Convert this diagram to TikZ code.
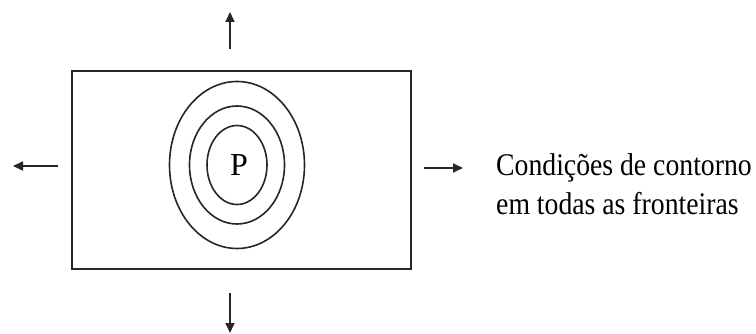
\documentclass[tikz,border=0pt]{standalone}
\usepackage{fontspec}
\setmainfont{Liberation Serif}
\newfontfamily\condfont[FakeStretch=0.88]{Liberation Serif}
\usetikzlibrary{arrows.meta}
\begin{document}
\begin{tikzpicture}[x=1pt,y=-1pt,
  boxline/.style={draw=black!85, line width=2pt},
  ring/.style={draw=black!85, line width=1.6pt},
  outarrow/.style={draw=black!85, line width=1.7pt, -{Triangle[length=10pt,width=9pt]}},
  label/.style={font=\condfont\fontsize{31.5}{38}\selectfont, inner sep=0pt, anchor=base west}]
\useasboundingbox (0,0) rectangle (756,334);
\node[boxline, minimum width=339pt, minimum height=198pt, inner sep=0pt] (box) at (241.5,170) {};
\coordinate (c) at (237,165);
\draw[ring] (c) ellipse [x radius=67.5pt, y radius=83.5pt];
\draw[ring] (c) ellipse [x radius=47.5pt, y radius=59pt];
\draw[ring] (c) ellipse [x radius=30pt, y radius=39.5pt];
\node[font=\fontsize{32}{38}\selectfont, inner sep=0pt, anchor=base] (p) at (239,175.5) {P};
\coordinate (t0) at (230,49); \coordinate (t1) at (230,12);
\coordinate (b0) at (230,293); \coordinate (b1) at (230,333);
\coordinate (l0) at (58,166); \coordinate (l1) at (13,166);
\coordinate (r0) at (424,168); \coordinate (r1) at (463,168);
\draw[outarrow] (t0) -- (t1);
\draw[outarrow] (b0) -- (b1);
\draw[outarrow] (l0) -- (l1);
\draw[outarrow] (r0) -- (r1);
\node[label] (line1) at (496,176) {Condições de contorno};
\node[label] (line2) at (496,215) {em todas as fronteiras};
\end{tikzpicture}
\end{document}
